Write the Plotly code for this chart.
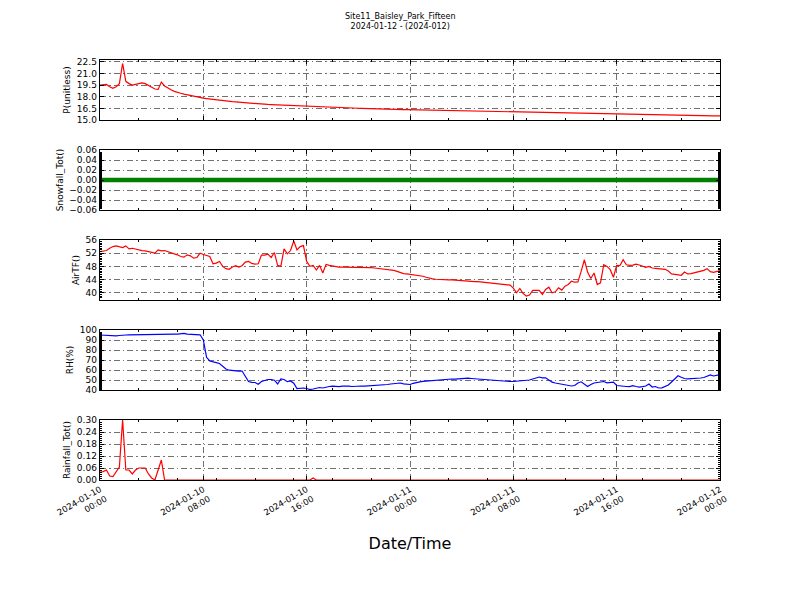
import pandas as pd
import plotly.graph_objects as go

title_line1 = "Site11_Baisley_Park_Fifteen"
title_line2 = "2024-01-12 - (2024-012)"
start_time = "2024-01-10 00:00"
n_points = 193

p_unitless = [
    19.5, 19.55, 19.6, 19.3, 19.1, 19.3, 19.7, 22.3,
    20.0, 19.7, 19.5, 19.6, 19.75, 19.8, 19.7, 19.5,
    19.3, 19.0, 18.95, 19.9, 19.4, 19.1, 18.9, 18.7,
    18.55, 18.45, 18.35, 18.25, 18.15, 18.05, 17.97, 17.9,
    17.83, 17.77, 17.71, 17.65, 17.6, 17.55, 17.5, 17.45,
    17.41, 17.37, 17.33, 17.29, 17.25, 17.22, 17.19, 17.16,
    17.13, 17.1, 17.07, 17.04, 17.01, 16.99, 16.97, 16.95,
    16.93, 16.91, 16.89, 16.87, 16.85, 16.83, 16.81, 16.79,
    16.77, 16.75, 16.73, 16.71, 16.7, 16.68, 16.66, 16.65,
    16.63, 16.62, 16.6, 16.59, 16.57, 16.56, 16.55, 16.53,
    16.52, 16.51, 16.49, 16.48, 16.47, 16.46, 16.44, 16.43,
    16.42, 16.41, 16.4, 16.38, 16.37, 16.36, 16.35, 16.34,
    16.33, 16.32, 16.31, 16.3, 16.29, 16.28, 16.27, 16.26,
    16.25, 16.24, 16.23, 16.22, 16.21, 16.2, 16.19, 16.18,
    16.17, 16.16, 16.15, 16.14, 16.13, 16.12, 16.11, 16.1,
    16.09, 16.08, 16.07, 16.06, 16.05, 16.04, 16.03, 16.02,
    16.01, 16.0, 15.99, 15.98, 15.97, 15.96, 15.95, 15.94,
    15.93, 15.92, 15.91, 15.9, 15.9, 15.89, 15.88, 15.87,
    15.86, 15.85, 15.84, 15.83, 15.82, 15.81, 15.8, 15.8,
    15.79, 15.78, 15.77, 15.76, 15.75, 15.74, 15.73, 15.72,
    15.72, 15.71, 15.7, 15.7, 15.69, 15.68, 15.67, 15.67,
    15.66, 15.65, 15.65, 15.64, 15.63, 15.63, 15.62, 15.61,
    15.61, 15.6, 15.6, 15.59, 15.58, 15.58, 15.57, 15.57,
    15.56, 15.56, 15.55, 15.55, 15.54, 15.54, 15.53, 15.53, 15.52,
]

snowfall_tot = [0.0] * n_points

air_tf = [
    52.5, 52.6, 52.8, 53.5, 54.0, 54.2, 54.0, 53.7,
    54.2, 53.3, 53.5, 53.2, 53.0, 52.8, 52.7, 52.5,
    52.2, 52.0, 53.0, 52.7, 52.8, 52.4, 52.0, 51.8,
    51.5, 51.0, 50.8, 51.5, 51.2, 50.5, 50.7, 52.0,
    51.6, 51.3, 51.0, 48.8, 49.0, 49.5, 48.0, 47.3,
    47.1, 47.8, 48.2, 47.8, 48.2, 49.3, 49.5, 48.9,
    48.7, 48.8, 51.4, 51.4, 51.7, 50.7, 52.2, 48.3,
    48.0, 53.3, 51.8, 52.8, 55.7, 53.0, 54.0, 54.3,
    49.5, 48.0, 48.3, 46.9, 48.3, 46.0, 48.6, 48.3,
    48.1, 47.9, 47.8, 47.8, 47.8, 47.8, 47.8, 47.8,
    47.8, 47.7, 47.6, 47.6, 47.6, 47.5, 47.4, 47.3,
    47.2, 47.1, 47.0, 46.8, 46.5, 46.1, 45.8, 45.7,
    45.6, 45.5, 45.4, 45.3, 45.0, 44.7, 44.4, 44.2,
    44.1, 44.0, 44.0, 44.0, 43.9, 43.9, 43.8, 43.8,
    43.7, 43.7, 43.6, 43.5, 43.4, 43.4, 43.3, 43.3,
    43.2, 43.0, 42.9, 42.8, 42.6, 42.5, 42.4, 42.3,
    41.4, 40.0, 41.3, 39.8, 39.0, 39.3, 40.7, 40.8,
    40.7, 39.5, 41.0, 41.7, 40.0, 40.3, 41.5, 40.8,
    42.0, 42.5, 43.5, 43.2, 43.3, 46.5, 50.0, 46.3,
    44.3, 46.0, 42.5, 43.0, 48.5, 48.0, 47.0, 44.7,
    48.3, 48.2, 50.0, 48.5, 48.3, 48.4, 48.7, 48.4,
    48.0, 47.7, 48.0, 47.5, 47.4, 47.3, 47.2, 47.1,
    46.6, 45.7, 45.6, 45.5, 45.3, 46.3, 45.7, 45.8,
    46.0, 46.4, 46.5, 46.8, 47.3, 46.4, 46.2, 46.5, 46.7,
]

rh_pct = [
    95.0, 94.8, 94.5, 94.3, 94.2, 94.2, 94.5, 95.0,
    95.0, 95.2, 95.3, 95.3, 95.4, 95.4, 95.5, 95.5,
    95.6, 95.6, 95.7, 95.7, 95.8, 95.8, 95.8, 95.9,
    95.9, 96.0, 96.6, 95.8, 95.7, 95.5, 95.3, 95.2,
    90.0, 72.7, 69.0, 67.8, 67.3, 66.5, 63.8, 61.0,
    59.8, 59.5, 58.5, 58.8, 59.0, 53.5, 48.5, 47.7,
    47.5, 45.8, 48.5, 49.5, 50.5, 50.5, 49.8, 46.0,
    51.0, 50.5, 48.3, 49.0, 46.8, 41.5, 42.0, 42.0,
    41.5, 40.5, 41.0, 41.8, 42.5, 42.0, 43.0, 43.5,
    43.8, 43.5, 43.3, 43.8, 44.0, 43.8, 43.5, 43.8,
    44.2, 44.0, 43.8, 44.0, 44.3, 44.0, 44.5, 45.0,
    44.8, 45.5, 46.0, 46.5, 46.8, 47.0, 46.2, 45.8,
    45.5, 46.7, 47.8, 48.2, 48.7, 49.0, 49.3, 49.5,
    49.8, 50.3, 50.7, 51.0, 51.2, 51.0, 50.8, 51.0,
    51.5, 52.0, 51.8, 51.5, 51.2, 51.0, 50.7, 50.3,
    50.0, 49.7, 49.5, 49.3, 49.0, 48.8, 48.6, 48.5,
    48.5, 48.8, 49.2, 49.5, 49.5, 50.0, 51.0, 51.8,
    53.0, 52.2, 52.2, 50.0, 47.8, 47.0, 46.3, 45.8,
    45.3, 44.8, 44.0, 44.5, 47.0, 48.2, 46.0, 43.5,
    45.5, 47.0, 47.5, 48.0, 48.5, 47.2, 47.5, 47.8,
    44.5, 44.0, 43.8, 43.5, 43.4, 44.3, 43.5, 42.8,
    43.3, 44.0, 46.0, 43.0, 43.5, 42.0, 42.2, 43.5,
    45.0, 48.0, 51.0, 54.2, 52.8, 51.5, 51.2, 51.3,
    51.5, 51.8, 52.0, 52.5, 53.5, 55.0, 54.0, 54.5, 55.3,
]

rainfall_tot = [
    0.04, 0.042, 0.05, 0.02, 0.017, 0.04, 0.065, 0.30,
    0.05, 0.05, 0.03, 0.05, 0.06, 0.06, 0.06, 0.03,
    0.01, 0.0, 0.05, 0.10, 0.0, 0.0, 0.0, 0.0,
] + [0.0] * 41 + [0.0, 0.01, 0.0] + [0.0] * 125

x_tick_vals = ["2024-01-10 00:00", "2024-01-10 08:00", "2024-01-10 16:00",
               "2024-01-11 00:00", "2024-01-11 08:00", "2024-01-11 16:00",
               "2024-01-12 00:00"]
x_tick_text = ["2024-01-10<br>00:00", "2024-01-10<br>08:00", "2024-01-10<br>16:00",
               "2024-01-11<br>00:00", "2024-01-11<br>08:00", "2024-01-11<br>16:00",
               "2024-01-12<br>00:00"]

times = pd.date_range(start_time, periods=n_points, freq="15min")

panels = [
    ("P(unitless)", p_unitless, "#ff0000", 1.2, [15.0, 22.75], 1.5, ".1f", 15.0),
    ("Snowfall_Tot()", snowfall_tot, "#008000", 4.5, [-0.06, 0.06], 0.02, ".2f", -0.06),
    ("AirTF()", air_tf, "#ff0000", 1.2, [37.8, 56.0], 4, "d", 40),
    ("RH(%)", rh_pct, "#0000ff", 1.2, [40, 100], 10, "d", 40),
    ("Rainfall_Tot()", rainfall_tot, "#ff0000", 1.2, [0.0, 0.30], 0.06, ".2f", 0.0),
]
domains = [[0.8, 0.9], [0.65, 0.75], [0.5, 0.6], [0.35, 0.45], [0.2, 0.3]]

FONT = "DejaVu Sans"
GRID_DASH = "6px,3px,1.5px,3px"
GRID_COLOR = "#111111"
fig = go.Figure()
layout = dict(
    width=800, height=600, paper_bgcolor="white", plot_bgcolor="white",
    margin=dict(l=0, r=0, t=0, b=0), showlegend=False, hovermode=False,
    font=dict(family=FONT, size=9, color="black"),
)

for i, (name, vals, color, lw, rng, dt, fmt, t0) in enumerate(panels):
    n = i + 1
    xa = "x" if n == 1 else f"x{n}"
    ya = "y" if n == 1 else f"y{n}"
    fig.add_trace(go.Scatter(x=times, y=vals, mode="lines",
                             line=dict(color=color, width=lw),
                             xaxis=xa, yaxis=ya, hoverinfo="skip"))
    xkey = "xaxis" if n == 1 else f"xaxis{n}"
    ykey = "yaxis" if n == 1 else f"yaxis{n}"
    layout[xkey] = dict(
        domain=[0.125, 0.9], anchor=ya, type="date",
        range=["2024-01-10 00:00", "2024-01-12 00:00"],
        tickmode="array", tickvals=x_tick_vals, ticktext=x_tick_text,
        showticklabels=(n == 5), tickangle=-30,
        tickfont=dict(family=FONT, size=8.5),
        ticks="inside", ticklen=4, tickcolor="black",
        showline=True, linecolor="black", linewidth=1.3, mirror="allticks",
        showgrid=True, gridcolor=GRID_COLOR, gridwidth=0.6, griddash=GRID_DASH,
        zeroline=False, automargin=False,
        minor=dict(ticks="inside", ticklen=2, dtick=3 * 3600 * 1000,
                   tick0="2024-01-10 00:00", tickcolor="black", showgrid=False),
    )
    if n != 1:
        layout[xkey]["matches"] = "x"
    if n == 5:
        layout[xkey]["title"] = dict(text="Date/Time", font=dict(family=FONT, size=16), standoff=12)
    layout[ykey] = dict(
        domain=domains[i], anchor=xa, range=rng,
        tickmode="linear", tick0=t0, dtick=dt, tickformat=fmt,
        tickfont=dict(family=FONT, size=9),
        ticks="inside", ticklen=4, tickcolor="black",
        showline=True, linecolor="black", linewidth=1.3, mirror="allticks",
        showgrid=True, gridcolor=GRID_COLOR, gridwidth=0.6, griddash=GRID_DASH,
        zeroline=False, automargin=False,
        title=dict(text=name, font=dict(family=FONT, size=9), standoff=4),
        minor=dict(ticks="inside", ticklen=2, nticks=10, tickcolor="black", showgrid=False),
    )

layout["annotations"] = [dict(
    text=f"{title_line1}<br>{title_line2}", x=0.5, y=1 - 10 / 600,
    xref="paper", yref="paper", xanchor="center", yanchor="top",
    showarrow=False, font=dict(family=FONT, size=8),
)]
fig.update_layout(**layout)
fig.write_html("out.html", config={"displayModeBar": False, "staticPlot": True},
               post_script="document.body.style.margin='0';document.body.style.overflow='hidden';")
